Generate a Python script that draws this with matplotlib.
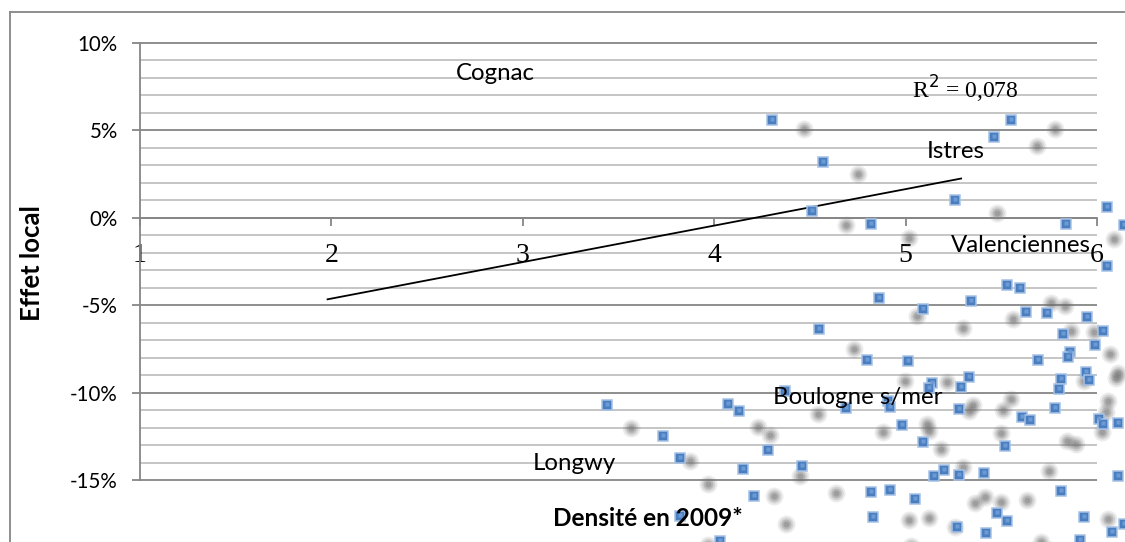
import matplotlib
matplotlib.use("Agg")
import numpy as np
import matplotlib.pyplot as plt
from matplotlib.transforms import Affine2D
from matplotlib.lines import Line2D

# ---------------- data ----------------
density = [4.30, 4.57, 4.51, 4.82, 5.26, 5.46, 5.55, 5.84, 6.05, 6.14,
           6.05, 5.53, 5.60, 5.34, 5.63, 5.74, 5.95, 4.86, 5.09, 5.82,
           6.03, 5.99, 5.69, 5.86, 5.85, 5.33, 5.29, 5.81, 5.94, 5.96,
           5.80, 5.28, 5.78, 5.61, 5.65, 6.01, 6.03, 6.11, 5.52, 5.28,
           5.41, 5.20, 5.15, 6.11, 5.81, 5.48, 5.53, 5.93, 5.27, 5.42,
           6.08, 6.14, 5.91, 4.55, 4.80, 5.01, 5.14, 5.12, 4.37, 4.69,
           4.91, 4.92, 4.98, 5.09, 4.46, 4.82, 4.92, 5.05, 4.83, 4.28,
           3.44, 4.07, 4.13, 3.73, 3.82, 4.15, 4.21, 3.82, 4.03]
effet = [5.61, 3.16, 0.36, -0.33, 0.99, 4.64, 5.61, -0.38, 0.64, -0.44,
         -2.78, -3.86, -4.04, -4.78, -5.41, -5.45, -5.69, -4.61, -5.23, -6.66,
         -6.49, -7.29, -8.14, -7.69, -7.97, -9.12, -9.69, -9.23, -8.83, -9.29,
         -9.80, -10.94, -10.88, -11.40, -11.57, -11.51, -11.80, -11.74, -13.05, -14.71,
         -14.59, -14.42, -14.77, -14.77, -15.62, -16.88, -17.33, -17.11, -17.68, -18.02,
         -17.96, -17.51, -18.42, -6.38, -8.14, -8.20, -9.46, -9.74, -9.91, -10.88,
         -10.49, -10.83, -11.85, -12.83, -14.20, -15.68, -15.57, -16.08, -17.11, -13.28,
         -10.71, -10.65, -11.06, -12.48, -13.74, -14.37, -15.91, -17.05, -18.48]

trend_x = [1.98, 5.29]
trend_y = [-4.66, 2.24]

x_ticks = [1, 2, 3, 4, 5, 6]
y_ticks = [-15, -10, -5, 0, 5, 10]
y_tick_labels = ["-15%", "-10%", "-5%", "0%", "5%", "10%"]

point_labels = ["Cognac", "Istres", "Valenciennes", "Boulogne s/mer", "Longwy"]
r2_label = "R$^2$ = 0,078"
x_title = "Densité en 2009*"
y_title = "Effet local"

# ---------------- layout ----------------
W, H = 1125, 542
SANS = ["Lato", "DejaVu Sans"]
SERIF = ["Liberation Serif", "DejaVu Serif"]
MAJ = "#868686"
MIN = "#C0C0C0"

fig = plt.figure(figsize=(W / 100, H / 100), dpi=100)


def fx(px):
    return px / W


def fy(py):
    return 1 - py / H


ax = fig.add_axes([fx(140), fy(480.3), fx(1097) - fx(140), fy(42.7) - fy(480.3)])
ax.set_xlim(1, 6)
ax.set_ylim(-15, 10)
ax.patch.set_alpha(0)

# gridlines
for yv in np.arange(-15, 11, 1):
    major = (yv % 5 == 0)
    ax.hlines(yv, 1, 6, colors=MAJ if major else MIN, lw=1.3, zorder=1,
              clip_on=False)

for s in ["top", "right"]:
    ax.spines[s].set_visible(False)
ax.spines["left"].set_color(MAJ)
ax.spines["left"].set_linewidth(1.3)
ax.spines["bottom"].set_position(("data", 0))
ax.spines["bottom"].set_color(MAJ)
ax.spines["bottom"].set_linewidth(1.3)

ax.set_yticks(y_ticks)
ax.set_yticklabels(y_tick_labels, fontfamily=SANS, fontsize=14.8)
ax.set_xticks(x_ticks)
ax.set_xticklabels([str(v) for v in x_ticks], fontfamily=SERIF, fontsize=20)
ax.tick_params(axis="y", direction="out", length=6, width=1.3, color=MAJ,
               pad=10, labelcolor="black")
ax.tick_params(axis="x", direction="out", length=6, width=1.3, color=MAJ,
               pad=12, labelcolor="black")

# trend line
ax.plot(trend_x, trend_y, color="black", lw=1.3, zorder=3, clip_on=False)

# shadows (offset & slightly enlarged, blurred grey)
shadow_tr = ax.transData + Affine2D().scale(1.05).translate(-6, -0.05 * H - 3)
for d, a in [(18, 0.12), (14, 0.18), (10, 0.26), (6, 0.32)]:
    ax.plot(density, effet, linestyle="none", marker="o", ms=d * 0.72,
            mfc="#6A6A6A", mec="none", alpha=a, transform=shadow_tr,
            clip_on=False, zorder=2)

# blue square markers
ax.plot(density, effet, linestyle="none", marker="s", ms=7.8,
        mfc="#4A7EBF", mec="#A6C1E6", mew=1.1, clip_on=False, zorder=4)
ax.plot(density, effet, linestyle="none", marker="s", ms=3.4,
        mfc="#6C9AD6", mec="none", clip_on=False, zorder=4,
        transform=ax.transData + Affine2D().translate(0, 1))

# labels
label_pos = [(456, 74), (927, 152), (951, 245), (773, 397), (533, 463)]
for txt, (px, py) in zip(point_labels, label_pos):
    fig.text(fx(px), fy(py), txt, ha="left", va="center", fontfamily=SANS,
             fontsize=17.3, zorder=6)
fig.text(fx(912), fy(89), r2_label, ha="left", va="center", fontfamily=SERIF,
         fontsize=17, zorder=6)

fig.text(fx(648), fy(518), x_title, ha="center", va="center", fontfamily=SANS,
         fontsize=17.6, fontweight="bold", zorder=6)
fig.text(fx(32), fy(263), y_title, ha="center", va="center", rotation=90,
         fontfamily=SANS, fontsize=18.5, fontweight="bold", zorder=6)

# outer chart frame (partially cropped)
fig.add_artist(Line2D([fx(10), 1], [fy(12), fy(12)], color=MAJ, lw=1.3))
fig.add_artist(Line2D([fx(10), fx(10)], [fy(12), 0], color=MAJ, lw=1.3))

fig.savefig("out.png", dpi=100)
